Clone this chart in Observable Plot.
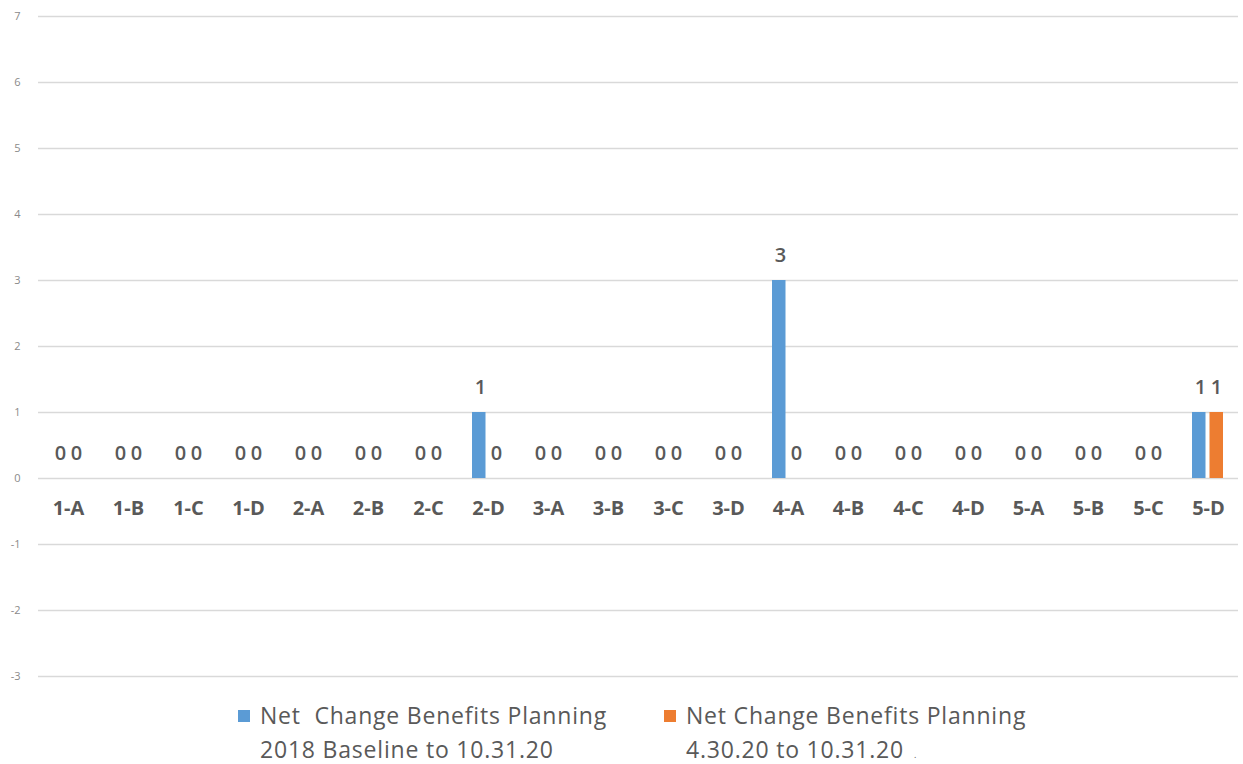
<!DOCTYPE html>
<html><head><meta charset="utf-8">
<script src="https://cdn.jsdelivr.net/npm/d3@7"></script>
<script src="https://cdn.jsdelivr.net/npm/@observablehq/plot@0.6"></script>
<style>
body{margin:0;background:#fff;font-family:"Open Sans",Lato,sans-serif;}
#wrap{position:relative;width:1243px;height:764px;overflow:hidden;}
#chart svg{display:block;}
.item{position:absolute;top:698px;font-size:23px;letter-spacing:0.8px;line-height:34px;color:#595959;font-family:"Open Sans",sans-serif;}
.sw{position:absolute;width:12px;height:12px;top:12px;}
.txt{position:absolute;left:22px;top:0;white-space:pre;}
.dot{position:absolute;left:250px;top:52px;font-size:9px;line-height:9px;letter-spacing:0;color:#595959;}
</style></head><body>
<div id="wrap"><div id="chart"></div><div id="legend"></div></div>
<script>
const categories = ["1-A","1-B","1-C","1-D","2-A","2-B","2-C","2-D","3-A","3-B","3-C","3-D","4-A","4-B","4-C","4-D","5-A","5-B","5-C","5-D"];
const seriesNames = ["Net  Change Benefits Planning\n2018 Baseline to 10.31.20", "Net Change Benefits Planning\n4.30.20 to 10.31.20"];
const seriesSuffix = ["", "."];
const baselineValues = [0,0,0,0,0,0,0,1,0,0,0,0,3,0,0,0,0,0,0,1];
const recentValues   = [0,0,0,0,0,0,0,0,0,0,0,0,0,0,0,0,0,0,0,1];
const yTicks = [-3,-2,-1,0,1,2,3,4,5,6,7];
const colors = ["#5B9BD5","#ED7D31"];

const rowsA = categories.map((c,i)=>({category:c, value: baselineValues[i]}));
const rowsB = categories.map((c,i)=>({category:c, value: recentValues[i]}));

const chart = Plot.plot({
  width:1243, height:690, marginLeft:38, marginRight:5, marginTop:16, marginBottom:14,
  style:{fontFamily:"'Open Sans', Lato, sans-serif", background:"#fff"},
  x:{domain:categories, padding:0, axis:null},
  y:{domain:[-3,7], axis:null},
  marks:[
    Plot.ruleY(yTicks,{stroke:"#d9d9d9", strokeWidth:1.3}),
    Plot.axisY({ticks:yTicks, tickSize:0, tickPadding:18, fontSize:11, color:"#8a8a8a", label:null, tickFormat:d=>String(d)}),
    Plot.barY(rowsA,{x:"category", y:"value", fill:colors[0], insetLeft:14, insetRight:32.5}),
    Plot.barY(rowsB,{x:"category", y:"value", fill:colors[1], insetLeft:31.5, insetRight:15}),
    Plot.text(rowsA,{x:"category", y:"value", text:d=>String(d.value), dx:-8, dy:-25, fontSize:20, fontWeight:600, fill:"#595959"}),
    Plot.text(rowsB,{x:"category", y:"value", text:d=>String(d.value), dx:8, dy:-25, fontSize:20, fontWeight:600, fill:"#595959"}),
    Plot.text(categories,{x:d=>d, y:()=>0, text:d=>d, dy:30, fontSize:20, fontWeight:"bold", fill:"#595959"})
  ]
});
document.getElementById("chart").appendChild(chart);

const legend = document.getElementById("legend");
const lefts = [238, 664];
seriesNames.forEach((name,i)=>{
  const item = document.createElement("div");
  item.className = "item";
  item.style.left = lefts[i] + "px";
  const sw = document.createElement("div");
  sw.className = "sw"; sw.style.background = colors[i];
  const t = document.createElement("div");
  t.className = "txt"; t.textContent = name;
  item.appendChild(sw); item.appendChild(t);
  if (seriesSuffix[i]) {
    const s = document.createElement("div");
    s.className = "dot"; s.textContent = seriesSuffix[i];
    item.appendChild(s);
  }
  legend.appendChild(item);
});
</script>
</body></html>
